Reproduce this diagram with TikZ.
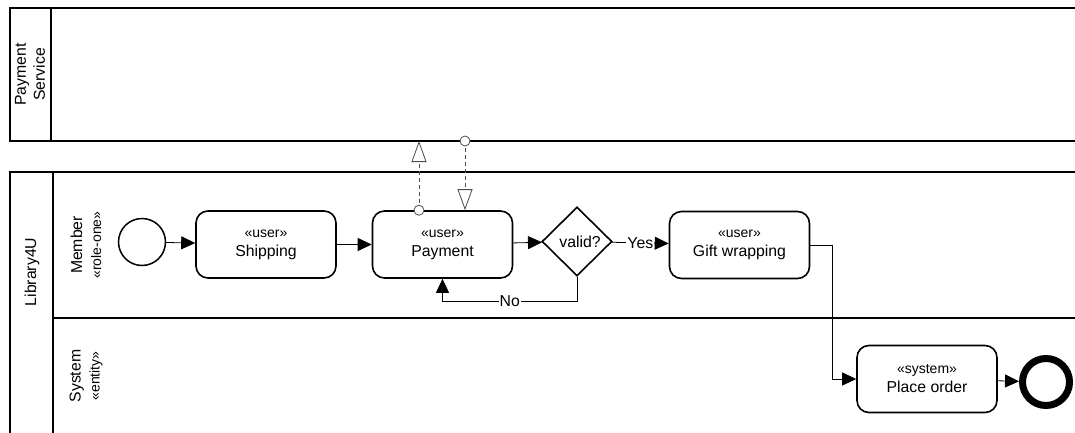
\documentclass[tikz,border=0pt]{standalone}
\usepackage{fontspec}
\setmainfont{Liberation Sans}
\usetikzlibrary{arrows.meta,shapes.geometric,calc}

\newcommand\mainsz{\fontsize{15.8}{19}\selectfont}
\newcommand\stsz{\fontsize{14}{19}\selectfont}

\begin{document}
\begin{tikzpicture}[x=1pt,y=-1pt,
  pool/.style={line width=2pt},
  task/.style={draw, line width=1.6pt, rounded corners=12pt, minimum width=140pt,
    minimum height=67pt, align=center, inner sep=0pt, font=\mainsz},
  gate/.style={draw, diamond, line width=1.6pt, minimum width=70pt,
    minimum height=69pt, inner sep=0pt, font=\mainsz},
  flow/.style={line width=0.8pt, -{Triangle[length=14pt,width=13pt]}},
  msg/.style={line width=0.8pt, black!70, dash pattern=on 4pt off 3pt,
    -{Triangle[length=21pt,width=15pt,fill=white]}},
  msgdot/.style={line width=0.8pt, draw=black!70, fill=white},
  lbl/.style={fill=white, inner sep=1pt, font=\mainsz},
  lanelbl/.style={rotate=90, align=center, font=\mainsz, inner sep=0pt},
]
\useasboundingbox (0,0) rectangle (1075,433);

% pools and lanes
\draw[pool] (1077,8) -- (10,8) -- (10,141) -- (1077,141);
\draw[pool] (51,8) -- (51,141);
\draw[pool] (1077,172) -- (10,172) -- (10,435);
\draw[pool] (53,172) -- (53,435);
\draw[pool] (53,318) -- (1077,318);

\node[lanelbl] (psl) at (30,74.5) {Payment\\Service};
\node[lanelbl] (libl) at (32,272) {Library4U};
\node[lanelbl] (meml) at (86,245) {Member\\{\stsz «role-one»}};
\node[lanelbl] (sysl) at (86,376) {System\\{\stsz «entity»}};

% events, tasks and gateway
\node[circle, draw, line width=1.5pt, minimum size=47pt, inner sep=0pt] (start) at (142,242) {};
\node[task] (ship) at (266,244.5) {{\stsz «user»}\\Shipping};
\node[task] (pay) at (442.5,244.5) {{\stsz «user»}\\Payment};
\node[gate] (valid) at (577,241.5) {\kern6pt valid?};
\node[task] (gift) at (739.5,245) {{\stsz «user»}\\Gift wrapping};
\node[task] (place) at (927,379) {{\stsz «system»}\\Place order};
\node[circle, draw, line width=7pt, minimum size=47pt, inner sep=0pt] (end) at (1046,382) {};

% sequence flows
\coordinate (nobase) at (0,301);
\draw[flow] (start) -- (ship);
\draw[flow] (ship) -- (pay);
\draw[flow] (pay) -- (valid);
\draw[flow] (valid) -- node[lbl] {Yes} (gift);
\draw[flow] (gift.east) -- ++(22,0) |- (place.west);
\draw[flow] (place) -- (end);
\draw[flow] (valid.south) -- (valid.south |- nobase)
  -- node[lbl] {No} (pay.south |- nobase) -- (pay.south);

% message flows
\coordinate (m1) at (419,141);
\coordinate (m2) at (465,141);
\draw[msg] (pay.north -| m1) -- (m1);
\draw[msg] (m2) -- (pay.north -| m2);
\draw[msgdot] (pay.north -| m1) circle (5pt);
\draw[msgdot] (m2) circle (5pt);
\end{tikzpicture}
\end{document}
